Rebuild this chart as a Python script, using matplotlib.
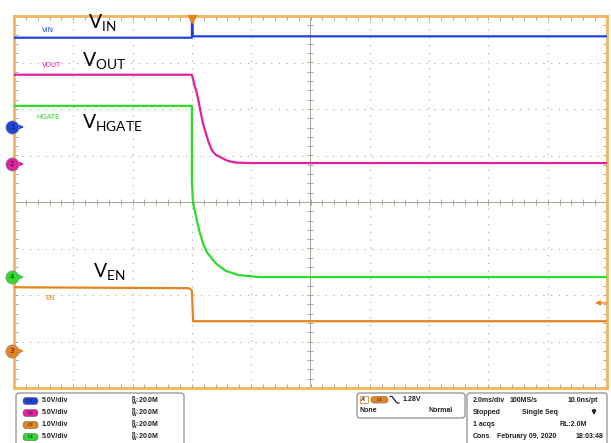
import numpy as np
import matplotlib
matplotlib.use("Agg")
import matplotlib.pyplot as plt
from matplotlib.patches import FancyBboxPatch, Rectangle

# time axis: 2 ms/div, trigger 3 div from the left
t_min, t_max = -6.0, 14.0

# channel settings (offset in divisions, volts per division)
ch1_off, ch1_scale = 1.613, 5.0    # VIN
ch2_off, ch2_scale = 0.817, 5.0    # VOUT
ch3_off, ch3_scale = -3.204, 1.0   # EN
ch4_off, ch4_scale = -1.613, 5.0   # HGATE

# traces (time in ms, value in V)
t_vin = [-6.0, 0.0, 0.0, 0.02, 0.03, 14.0]
v_vin = [9.6, 9.6, 12.5, 12.5, 9.75, 9.75]

t_vout = [-6.0, 0.0, 0.05, 0.10, 0.17, 0.24, 0.30, 0.38, 0.47, 0.57, 0.67, 0.80,
          1.01, 1.20, 1.48, 2.02, 14.0]
v_vout = [9.6, 9.6, 9.0, 8.3, 7.6, 6.5, 5.5, 4.3, 3.3, 2.3, 1.5, 1.0,
          0.65, 0.35, 0.15, 0.1, 0.1]

t_hgate = [-6.0, 0.0, 0.0, 0.03, 0.08, 0.13, 0.18, 0.24, 0.32, 0.40, 0.52, 0.67,
           0.80, 0.91, 1.15, 1.59, 2.26, 14.0]
v_hgate = [18.4, 18.4, 10.4, 8.3, 7.4, 6.7, 5.9, 5.1, 4.2, 3.4, 2.6, 2.0,
           1.5, 1.2, 0.65, 0.2, 0.0, 0.0]

t_en = [-6.0, -0.1, 0.0, 0.04, 14.0]
v_en = [1.37, 1.35, 1.30, 0.64, 0.64]

trig_level_div = -2.17

ch_names = ["C1", "C2", "C3", "C4"]
ch_vdiv = ["5.0V/div", "5.0V/div", "1.0V/div", "5.0V/div"]
ch_bw = ["20.0M", "20.0M", "20.0M", "20.0M"]

c_blue = "#1f45d8"
c_pink = "#e0209e"
c_orange = "#e8841e"
c_green = "#2bdc2b"
c_frame = "#f2b65a"
c_grid = "#a8a898"
ch_colors = [c_blue, c_pink, c_orange, c_green]


def to_div(v, off, scale):
    return np.asarray(v) / scale + off


fig = plt.figure(figsize=(6.11, 4.43), dpi=100)
ax = fig.add_axes([14 / 611, 1 - 388 / 443, 593 / 611, 372 / 443])
ax.set_xlim(t_min, t_max)
ax.set_ylim(-4, 4)

for s in ax.spines.values():
    s.set_color(c_frame)
    s.set_linewidth(2.0)

# dotted graticule
for x in np.arange(t_min + 2, t_max, 2.0):
    if abs(x - 4.0) > 1e-6:
        ax.axvline(x, color=c_grid, lw=0.8, ls=(0, (1, 6)), zorder=1)
for y in np.arange(-3, 4, 1.0):
    if y != 0:
        ax.axhline(y, color=c_grid, lw=0.8, ls=(0, (1, 6)), zorder=1)

# center cross with ticks
ax.axvline(4.0, color=c_grid, lw=0.7, zorder=1)
ax.axhline(0.0, color=c_grid, lw=0.7, zorder=1)
xm = np.arange(t_min, t_max + 0.01, 0.4)
ym = np.arange(-4, 4.01, 0.2)
ax.plot(xm, np.zeros_like(xm), ls="none", marker="|", ms=4, color=c_grid, mew=0.7, zorder=1)
ax.plot(np.full_like(ym, 4.0), ym, ls="none", marker="_", ms=4, color=c_grid, mew=0.7, zorder=1)

# frame ticks
ax.set_xticks(xm)
ax.set_yticks(ym)
ax.tick_params(direction="in", length=3, width=0.7, color=c_grid,
               top=True, right=True, labelbottom=False, labelleft=False)

# traces
lw = 1.6
ax.plot(t_vin, to_div(v_vin, ch1_off, ch1_scale), color=c_blue, lw=lw, zorder=4)
ax.plot(t_vout, to_div(v_vout, ch2_off, ch2_scale), color=c_pink, lw=lw, zorder=4)
ax.plot(t_hgate, to_div(v_hgate, ch4_off, ch4_scale), color=c_green, lw=lw, zorder=4)
ax.plot(t_en, to_div(v_en, ch3_off, ch3_scale), color=c_orange, lw=lw, zorder=4)

# small channel labels
ax.text(-5.05, to_div(v_vin[0], ch1_off, ch1_scale) + 0.17, "VIN", color=c_blue, fontsize=5, va="center")
ax.text(-5.05, to_div(v_vout[0], ch2_off, ch2_scale) + 0.2, "VOUT", color=c_pink, fontsize=5, va="center")
ax.text(-5.25, to_div(v_hgate[0], ch4_off, ch4_scale) - 0.24, "HGATE", color=c_green, fontsize=5, va="center")
ax.text(-4.95, to_div(v_en[0], ch3_off, ch3_scale) - 0.22, "EN", color=c_orange, fontsize=5, va="center")

# big annotations
big = dict(fontsize=14, color="black", family="Lato", va="center", ha="left")
ax.text(-3.5, 3.85, r"$\mathregular{V_{IN}}$", **big)
ax.text(-3.7, 3.04, r"$\mathregular{V_{OUT}}$", **big)
ax.text(-3.7, 1.7, r"$\mathregular{V_{HGATE}}$", **big)
ax.text(-3.34, -1.49, r"$\mathregular{V_{EN}}$", **big)

# channel ground markers on the left edge
markers = [(ch1_off, c_blue, "1"), (ch2_off, c_pink, "2"),
           (ch4_off, c_green, "4"), (ch3_off, c_orange, "3")]
for yd, col, lab in markers:
    ax.annotate("", xy=(-5.66, yd), xytext=(-6.0, yd),
                arrowprops=dict(arrowstyle="-|>", color=col, lw=1.0, shrinkA=0, shrinkB=0,
                                mutation_scale=6), annotation_clip=False, zorder=6)
    ax.plot([-6.067], [yd], marker="o", ms=9.5, color=col, mec="#909090", mew=0.5,
            clip_on=False, zorder=7)
    ax.text(-6.067, yd, lab, fontsize=5, color="#202020", ha="center", va="center",
            zorder=8, clip_on=False)

# trigger position and level
ax.plot([0.0], [3.93], marker="v", ms=6, color=c_orange, clip_on=False, zorder=7)
ax.annotate("", xy=(13.6, trig_level_div), xytext=(14.0, trig_level_div),
            arrowprops=dict(arrowstyle="-|>", color=c_orange, lw=1.0, shrinkA=0, shrinkB=0,
                            mutation_scale=7),
            annotation_clip=False, zorder=6)

# bottom status panel (pixel coordinates)
pan = fig.add_axes([0, 0, 1, 1])
pan.set_xlim(0, 611)
pan.set_ylim(443, 0)
pan.axis("off")
pan.patch.set_visible(False)

box_kw = dict(boxstyle="round,pad=0,rounding_size=3", fc="white", ec="#808080", lw=0.8)
pan.add_patch(FancyBboxPatch((16, 393), 168, 56, **box_kw))
pan.add_patch(FancyBboxPatch((357, 393), 108, 25, **box_kw))
pan.add_patch(FancyBboxPatch((467, 393), 140, 56, **box_kw))

txt = dict(fontsize=5, family="Liberation Sans", weight="bold", color="#202020", va="center")
rows = [401, 413, 425, 437]
for i, y in enumerate(rows):
    pan.add_patch(FancyBboxPatch((23, y - 3.5), 15, 7,
                                 boxstyle="round,pad=0,rounding_size=3.5",
                                 fc=ch_colors[i], ec="#606060", lw=0.4))
    pan.text(30.5, y, ch_names[i], fontsize=3.2, color="#303030", ha="center", va="center",
             family="Liberation Sans", weight="bold")
    pan.text(42, y, ch_vdiv[i], **txt)
    pan.text(131, y, r"$\mathregular{^B_W}$:" + ch_bw[i], **txt)

# trigger box
pan.add_patch(Rectangle((360, 396), 8, 7, fc="white", ec=c_orange, lw=0.6))
pan.text(364, 399.5, "A'", fontsize=4, ha="center", va="center", family="Liberation Sans",
         weight="bold", color="#303030")
pan.add_patch(FancyBboxPatch((371, 396.5), 17, 6.5, boxstyle="round,pad=0,rounding_size=3.2",
                             fc=c_orange, ec="#606060", lw=0.4))
pan.text(379.5, 399.8, "C3", fontsize=3.2, ha="center", va="center", family="Liberation Sans",
         weight="bold", color="#303030")
pan.plot([390, 392, 397, 399], [396.5, 396.5, 403, 403], color="#202020", lw=0.9)
pan.text(403, 399.5, "1.28V", **txt)
pan.text(360, 411, "None", **txt)
pan.text(453, 411, "Normal", ha="right", **txt)

# acquisition box
pan.text(473, 400, "2.0ms/div", **txt)
pan.text(510, 400, "100MS/s", **txt)
pan.text(598, 400, "10.0ns/pt", ha="right", **txt)
pan.text(473, 413, "Stopped", **txt)
pan.text(522, 413, "Single Seq", **txt)
pan.annotate("", xy=(594, 418), xytext=(594, 407),
             arrowprops=dict(arrowstyle="-|>", color="#202020", lw=1.3, mutation_scale=5))
pan.text(473, 425, "1 acqs", **txt)
pan.text(587, 425, "RL:2.0M", ha="right", **txt)
pan.text(473, 437, "Cons", **txt)
pan.text(497, 437, "February 09, 2020", **txt)
pan.text(603, 437, "18:03:48", ha="right", **txt)

fig.savefig("out.png", dpi=100)
